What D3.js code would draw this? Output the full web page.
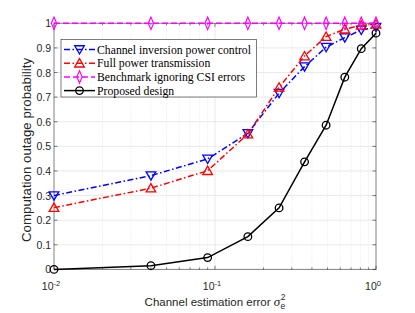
<!DOCTYPE html>
<html>
<head>
<meta charset="utf-8">
<script src="https://cdn.jsdelivr.net/npm/d3@7"></script>
<style>
  body { margin: 0; background: #fff; }
  svg { display: block; }
</style>
</head>
<body>
<div id="chart"></div>
<script>
// data
const errors = [0.01, 0.04, 0.09, 0.16, 0.25, 0.36, 0.49, 0.64, 0.81, 1];
const inversion = [0.30, 0.381, 0.449, 0.553, 0.716, 0.824, 0.903, 0.942, 0.973, 0.984];
const fullPower = [0.251, 0.33, 0.401, 0.55, 0.74, 0.867, 0.946, 0.976, 0.992, 0.996];
const benchmark = [1, 1, 1, 1, 1, 1, 1, 1, 1, 1];
const proposed = [0, 0.015, 0.048, 0.133, 0.25, 0.437, 0.586, 0.781, 0.897, 0.96];
const yTicks = [0, 0.1, 0.2, 0.3, 0.4, 0.5, 0.6, 0.7, 0.8, 0.9, 1];
const xTicks = [0.01, 0.1, 1];
const xTickExp = ["-2", "-1", "0"];

const series = [
    {name: "Channel inversion power control", values: inversion, color: "#0000ff", dash: "6,2.5,1.5,2.5", marker: "tdown"},
    {name: "Full power transmission", values: fullPower, color: "#ff0000", dash: "6,2.5,1.5,2.5", marker: "tup"},
    {name: "Benchmark ignoring CSI errors", values: benchmark, color: "#ff00ff", dash: "6,3", marker: "diamond"},
    {name: "Proposed design", values: proposed, color: "#000000", dash: null, marker: "circle"}
];

const W = 415, H = 313;
const sans = "'Liberation Sans', Arial, sans-serif";
const serif = "'Liberation Serif', 'Times New Roman', serif";
const x = d3.scaleLog().domain([0.01, 1]).range([54, 376]);
const y = d3.scaleLinear().domain([0, 1]).range([269.4, 23.3]);

const svg = d3.select("#chart").append("svg")
    .attr("width", W).attr("height", H);

// minor log grid
const minor = [];
[0.01, 0.1].forEach(d => { for (let k = 2; k <= 9; k++) minor.push(d * k); });

svg.append("g").selectAll("line").data(minor).join("line")
    .attr("x1", d => x(d)).attr("x2", d => x(d))
    .attr("y1", y(0)).attr("y2", y(1))
    .attr("stroke", "#d8d8d8").attr("stroke-width", 0.7)
    .attr("stroke-dasharray", "1,2");

svg.append("g").selectAll("line").data(xTicks.slice(1, -1)).join("line")
    .attr("x1", d => x(d)).attr("x2", d => x(d))
    .attr("y1", y(0)).attr("y2", y(1))
    .attr("stroke", "#e3e3e3").attr("stroke-width", 0.8);

svg.append("g").selectAll("line").data(yTicks.slice(1, -1)).join("line")
    .attr("x1", x(0.01)).attr("x2", x(1))
    .attr("y1", d => y(d)).attr("y2", d => y(d))
    .attr("stroke", "#e3e3e3").attr("stroke-width", 0.8);

// axes box and ticks
const axisColor = "#262626";
const axG = svg.append("g").attr("stroke", axisColor).attr("stroke-width", 0.6);
axG.append("rect")
    .attr("x", x(0.01)).attr("y", y(1))
    .attr("width", x(1) - x(0.01)).attr("height", y(0) - y(1))
    .attr("fill", "none").attr("stroke", "#808080").attr("stroke-width", 1);

yTicks.forEach(t => {
    axG.append("line").attr("x1", x(0.01)).attr("x2", x(0.01) + 3.5)
        .attr("y1", y(t)).attr("y2", y(t));
    axG.append("line").attr("x1", x(1)).attr("x2", x(1) - 3.5)
        .attr("y1", y(t)).attr("y2", y(t));
});
xTicks.concat(minor).forEach(t => {
    const len = xTicks.includes(t) ? 3.5 : 2;
    axG.append("line").attr("x1", x(t)).attr("x2", x(t))
        .attr("y1", y(0)).attr("y2", y(0) - len);
    axG.append("line").attr("x1", x(t)).attr("x2", x(t))
        .attr("y1", y(1)).attr("y2", y(1) + len);
});

// tick labels
svg.append("g").selectAll("text").data(yTicks).join("text")
    .attr("x", x(0.01) - 3).attr("y", d => y(d) + 4)
    .attr("text-anchor", "end")
    .attr("font-family", sans)
    .attr("font-size", 10.5).attr("fill", axisColor)
    .text(d => d === 0 || d === 1 ? d3.format("d")(d) : d3.format(".1f")(d));

const xl = svg.append("g").selectAll("text").data(xTicks).join("text")
    .attr("x", d => x(d) - 3).attr("y", 290)
    .attr("text-anchor", "middle")
    .attr("font-family", sans)
    .attr("font-size", 10.5).attr("fill", axisColor);
xl.append("tspan").text("10");
xl.append("tspan").attr("dy", -4.5).attr("font-size", 7.5).text((d, i) => xTickExp[i]);

// axis titles
svg.append("text")
    .attr("transform", `translate(31,150) rotate(-90)`)
    .attr("text-anchor", "middle")
    .attr("font-family", sans)
    .attr("font-size", 13.3).attr("fill", axisColor)
    .text("Computation outage probability");

const xt = svg.append("text")
    .attr("x", 215).attr("y", 306)
    .attr("text-anchor", "middle")
    .attr("font-family", sans)
    .attr("font-size", 11.5).attr("fill", axisColor);
xt.append("tspan").text("Channel estimation error ");
xt.append("tspan").attr("font-family", serif).attr("font-style", "italic").attr("font-size", 13).text("σ");
xt.append("tspan").attr("font-size", 8.5).attr("dy", -6).attr("dx", 0.5).text("2");
xt.append("tspan").attr("font-size", 8.5).attr("dy", 9).attr("dx", -5).text("e");

// markers
function drawMarker(g, type, cx, cy, color) {
    let el;
    if (type === "circle") {
        el = g.append("circle").attr("cx", cx).attr("cy", cy).attr("r", 3.8);
    } else {
        const sym = type === "diamond" ? d3.symbolDiamond : d3.symbolTriangle;
        const size = type === "diamond" ? 34 : 40;
        const rot = type === "tdown" ? 180 : 0;
        const dy = type === "tdown" ? -1 : (type === "tup" ? 1 : 0);
        el = g.append("path")
            .attr("d", d3.symbol().type(sym).size(size)())
            .attr("transform", `translate(${cx},${cy + dy}) rotate(${rot})` + (type === "diamond" ? " scale(0.85,1.15)" : ""));
    }
    el.attr("fill", "none").attr("stroke", color).attr("stroke-width", 1.3);
}

const line = d3.line().x((d, i) => x(errors[i])).y(d => y(d));

series.forEach(s => {
    const g = svg.append("g");
    g.append("path").datum(s.values)
        .attr("d", line)
        .attr("fill", "none").attr("stroke", s.color).attr("stroke-width", 1.5)
        .attr("stroke-dasharray", s.dash);
    s.values.forEach((v, i) => drawMarker(g, s.marker, x(errors[i]), y(v), s.color));
});

// legend
const lg = svg.append("g");
lg.append("rect").attr("x", 61).attr("y", 39.5).attr("width", 195.5).attr("height", 57.5)
    .attr("fill", "#fff").attr("stroke", "#262626").attr("stroke-width", 0.6);
series.forEach((s, i) => {
    const ly = 49.5 + i * 13.7;
    lg.append("line").attr("x1", 64).attr("x2", 95).attr("y1", ly).attr("y2", ly)
        .attr("stroke", s.color).attr("stroke-width", 1.5).attr("stroke-dasharray", s.dash);
    drawMarker(lg, s.marker, 79.5, ly, s.color);
    const t = lg.append("text").attr("x", 97).attr("y", ly + 4.2)
        .attr("font-family", serif)
        .attr("font-size", 13).attr("fill", "#000")
        .text(s.name);
    // fit first entry width to the reference (text ends near x=251)
    if (i === 0) {
        const w = t.node().getComputedTextLength();
        lg.attr("data-scale", 154 / w);
    }
});
const k = +lg.attr("data-scale") || 1;
lg.selectAll("text").attr("font-size", 13 * k);
</script>
</body>
</html>
